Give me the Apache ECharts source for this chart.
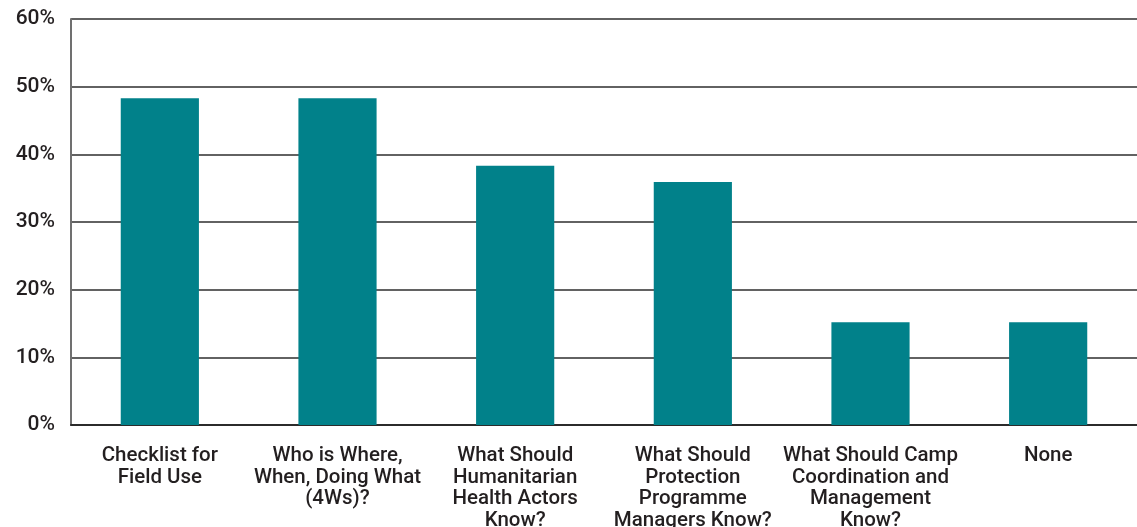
<!DOCTYPE html>
<html>
<head>
<meta charset="utf-8">
<title>Tools used</title>
<script src="https://cdn.jsdelivr.net/npm/echarts@6/dist/echarts.min.js"></script>
<style>
  html, body { margin: 0; padding: 0; background: #ffffff; }
  #chart { width: 1137px; height: 527px; }
</style>
</head>
<body>
<div id="chart"></div>
<script>
// Tools reported as used (share of respondents, %)
const categories = [
  'Checklist for\nField Use',
  'Who is Where,\nWhen, Doing What\n(4Ws)?',
  'What Should\nHumanitarian\nHealth Actors\nKnow?',
  'What Should\nProtection\nProgramme\nManagers Know?',
  'What Should Camp\nCoordination and\nManagement\nKnow?',
  'None'
];
const shares = [48.3, 48.3, 38.3, 35.9, 15.2, 15.2];
const yTicks = { min: 0, max: 60, interval: 10 };

const textColor = '#231f20';
const fontFamily = 'Roboto, "DejaVu Sans", sans-serif';

const chart = echarts.init(document.getElementById('chart'), null, { renderer: 'canvas' });
chart.setOption({
  animation: false,
  backgroundColor: '#ffffff',
  grid: {
    left: 71, right: 0, top: 19, bottom: 102,
    containLabel: false,
    outerBoundsMode: 'none'
  },
  xAxis: {
    type: 'category',
    data: categories,
    axisLine: { show: true, lineStyle: { color: '#2b2b2b', width: 2 } },
    axisTick: { show: false },
    axisLabel: {
      interval: 0,
      margin: 20,
      color: textColor,
      fontFamily: fontFamily,
      fontWeight: 500,
      fontSize: 20.5,
      lineHeight: 21.7,
      align: 'center'
    }
  },
  yAxis: {
    type: 'value',
    min: yTicks.min,
    max: yTicks.max,
    interval: yTicks.interval,
    axisLine: { show: true, lineStyle: { color: '#707070', width: 2 } },
    axisTick: { show: false },
    splitLine: { show: true, lineStyle: { color: '#2e2e2e', width: 1.6 } },
    axisLabel: {
      margin: 16,
      color: textColor,
      fontFamily: fontFamily,
      fontWeight: 500,
      fontSize: 21,
      padding: [3, 0, 0, 0],
      formatter: '{value}%'
    }
  },
  series: [{
    type: 'bar',
    data: shares,
    barWidth: '44%',
    itemStyle: { color: '#01818a' },
    z: 3
  }]
});
</script>
</body>
</html>
